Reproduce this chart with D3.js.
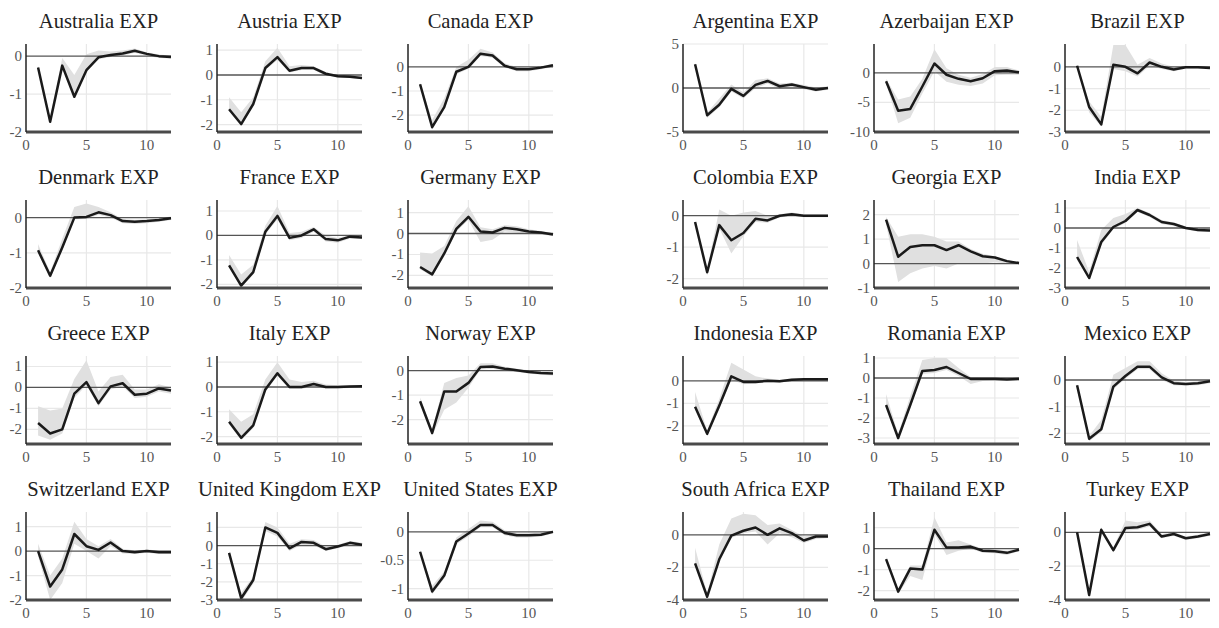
<!DOCTYPE html>
<html>
<head>
<meta charset="utf-8">
<script src="https://cdn.jsdelivr.net/npm/d3@7"></script>
<style>
  body { margin: 0; background: #fff; }
  svg { display: block; }
</style>
</head>
<body>
<svg id="chart" width="1219" height="628"></svg>
<script>
// Panels in reading order (row by row, left block then right block)
const countries = [
  "Australia", "Austria", "Canada", "Argentina", "Azerbaijan", "Brazil",
  "Denmark", "France", "Germany", "Colombia", "Georgia", "India",
  "Greece", "Italy", "Norway", "Indonesia", "Romania", "Mexico",
  "Switzerland", "United Kingdom", "United States", "South Africa", "Thailand", "Turkey"
];

const horizon = [1, 2, 3, 4, 5, 6, 7, 8, 9, 10, 11, 12];
const xTicks = [0, 5, 10];

// point response
const irf = [
  [-0.3, -1.73, -0.25, -1.07, -0.37, -0.03, 0.03, 0.07, 0.14, 0.06, 0.0, -0.02],
  [-1.38, -1.98, -1.17, 0.28, 0.72, 0.17, 0.28, 0.28, 0.05, -0.05, -0.07, -0.12],
  [-0.72, -2.5, -1.67, -0.2, 0.0, 0.55, 0.47, 0.05, -0.1, -0.1, -0.03, 0.07],
  [2.7, -3.1, -1.9, -0.1, -0.9, 0.35, 0.8, 0.2, 0.4, 0.1, -0.2, 0.0],
  [-1.4, -6.4, -6.1, -2.3, 1.6, -0.3, -1.0, -1.4, -0.9, 0.3, 0.4, 0.1],
  [0.05, -1.85, -2.65, 0.1, 0.0, -0.3, 0.2, 0.0, -0.12, -0.02, -0.02, -0.05],
  [-0.93, -1.65, -0.85, 0.0, 0.02, 0.15, 0.07, -0.1, -0.12, -0.1, -0.07, -0.02],
  [-1.22, -2.05, -1.5, 0.15, 0.8, -0.1, 0.0, 0.25, -0.15, -0.2, -0.05, -0.08],
  [-1.6, -1.95, -0.95, 0.22, 0.8, 0.1, 0.05, 0.27, 0.2, 0.1, 0.05, -0.05],
  [-0.2, -1.8, -0.3, -0.78, -0.55, -0.1, -0.15, 0.0, 0.05, 0.0, 0.0, 0.0],
  [1.8, 0.28, 0.68, 0.75, 0.75, 0.55, 0.75, 0.5, 0.3, 0.25, 0.1, 0.02],
  [-1.45, -2.5, -0.7, 0.05, 0.35, 0.9, 0.65, 0.3, 0.2, 0.0, -0.1, -0.12],
  [-1.7, -2.2, -2.0, -0.3, 0.25, -0.75, 0.05, 0.2, -0.35, -0.3, -0.05, -0.15],
  [-1.4, -2.05, -1.55, -0.1, 0.55, 0.0, 0.0, 0.12, 0.0, 0.0, 0.02, 0.03],
  [-1.25, -2.55, -0.85, -0.85, -0.5, 0.15, 0.17, 0.08, 0.02, -0.05, -0.1, -0.12],
  [-1.15, -2.35, -1.1, 0.2, -0.05, -0.05, 0.0, -0.02, 0.05, 0.07, 0.07, 0.07],
  [-1.35, -3.0, -1.35, 0.35, 0.4, 0.55, 0.25, -0.05, -0.05, -0.05, -0.07, -0.05],
  [-0.2, -2.2, -1.85, -0.25, 0.15, 0.5, 0.5, 0.1, -0.12, -0.15, -0.12, -0.05],
  [0.0, -1.45, -0.75, 0.7, 0.2, 0.05, 0.35, 0.0, -0.05, 0.0, -0.05, -0.05],
  [-0.4, -2.9, -1.9, 1.0, 0.7, -0.15, 0.2, 0.15, -0.2, -0.05, 0.15, 0.05],
  [-0.35, -1.05, -0.77, -0.17, -0.03, 0.12, 0.12, -0.02, -0.06, -0.06, -0.05, 0.0],
  [-1.75, -3.8, -1.5, -0.05, 0.25, 0.45, 0.0, 0.4, 0.1, -0.35, -0.1, -0.1],
  [-0.5, -2.05, -0.95, -1.0, 0.9, 0.05, 0.05, 0.1, -0.1, -0.12, -0.2, -0.05],
  [0.0, -3.7, 0.15, -1.05, 0.25, 0.3, 0.5, -0.25, -0.1, -0.35, -0.25, -0.1]
];

// lower edge of the shaded band
const bandLo = [
  [-0.35, -1.78, -0.3, -1.12, -0.42, -0.08, -0.02, 0.02, 0.09, 0.01, -0.05, -0.06],
  [-1.45, -2.05, -1.25, 0.2, 0.6, 0.1, 0.2, 0.2, -0.02, -0.1, -0.12, -0.17],
  [-0.8, -2.6, -1.75, -0.3, -0.08, 0.45, 0.38, -0.02, -0.18, -0.18, -0.1, 0.0],
  [2.5, -3.4, -2.2, -0.4, -1.2, 0.0, 0.5, -0.1, 0.1, -0.15, -0.4, -0.2],
  [-1.8, -8.5, -7.6, -3.5, 0.3, -1.5, -2.0, -2.2, -1.8, -0.4, -0.3, -0.3],
  [0.0, -2.1, -2.75, -0.1, -0.2, -0.45, 0.05, -0.1, -0.2, -0.08, -0.08, -0.1],
  [-1.0, -1.72, -0.92, -0.05, -0.04, 0.08, 0.0, -0.16, -0.18, -0.16, -0.12, -0.07],
  [-1.3, -2.1, -1.6, 0.05, 0.65, -0.2, -0.1, 0.15, -0.25, -0.3, -0.12, -0.15],
  [-1.7, -2.05, -1.1, 0.1, 0.65, -0.4, -0.3, 0.1, 0.05, 0.0, -0.05, -0.12],
  [-0.25, -1.9, -0.4, -1.2, -0.65, -0.2, -0.22, -0.06, 0.0, -0.05, -0.05, -0.05],
  [1.6, -0.75, -0.4, -0.2, -0.1, -0.2, 0.0, 0.0, 0.0, 0.05, 0.0, -0.03],
  [-1.6, -2.6, -0.85, -0.05, 0.25, 0.8, 0.55, 0.2, 0.1, -0.08, -0.17, -0.2],
  [-2.3, -2.5, -2.2, -0.5, 0.1, -0.9, -0.1, 0.05, -0.5, -0.45, -0.2, -0.3],
  [-1.5, -2.15, -1.65, -0.2, 0.45, -0.08, -0.08, 0.04, -0.07, -0.06, -0.04, -0.03],
  [-1.35, -2.65, -1.6, -1.3, -0.7, 0.05, 0.08, 0.0, -0.05, -0.12, -0.17, -0.2],
  [-1.25, -2.45, -1.25, 0.05, -0.15, -0.12, -0.07, -0.08, 0.0, 0.02, 0.02, 0.02],
  [-1.45, -3.1, -1.5, 0.2, 0.25, 0.4, 0.1, -0.3, -0.15, -0.12, -0.14, -0.12],
  [-0.25, -2.3, -1.95, -0.35, 0.05, 0.4, 0.4, 0.0, -0.2, -0.22, -0.2, -0.12],
  [-0.2, -2.0, -1.3, 0.3, 0.0, -0.3, 0.2, -0.1, -0.12, -0.07, -0.12, -0.12],
  [-0.5, -3.1, -2.1, 0.8, 0.5, -0.3, 0.05, 0.0, -0.3, -0.15, 0.05, -0.05],
  [-0.38, -1.1, -0.82, -0.22, -0.08, 0.08, 0.08, -0.06, -0.1, -0.1, -0.08, -0.03],
  [-1.9, -3.9, -1.7, -0.2, 0.1, 0.2, -0.6, 0.1, -0.15, -0.5, -0.25, -0.2],
  [-0.6, -2.15, -1.3, -1.5, 0.7, -0.3, -0.1, 0.0, -0.2, -0.22, -0.3, -0.12],
  [-0.05, -3.9, 0.0, -1.2, 0.1, 0.15, 0.35, -0.35, -0.2, -0.45, -0.35, -0.2]
];

// upper edge of the shaded band
const bandHi = [
  [-0.25, -1.6, -0.05, -0.5, 0.05, 0.15, 0.12, 0.15, 0.2, 0.1, 0.04, 0.02],
  [-0.9, -1.5, -0.9, 0.55, 1.1, 0.35, 0.4, 0.35, 0.12, 0.0, -0.02, -0.07],
  [-0.65, -2.2, -1.3, 0.0, 0.3, 0.75, 0.6, 0.15, 0.0, -0.03, 0.03, 0.12],
  [2.9, -2.8, -1.2, 0.4, -0.5, 0.9, 1.1, 0.5, 0.6, 0.35, 0.05, 0.2],
  [-1.0, -4.5, -4.0, -1.0, 4.0, 0.8, -0.3, -0.8, -0.2, 1.0, 1.0, 0.4],
  [0.1, -1.6, -2.3, 1.0, 1.0, 0.1, 0.4, 0.15, 0.0, 0.05, 0.03, 0.0],
  [-0.75, -1.55, -0.6, 0.3, 0.4, 0.3, 0.15, -0.04, -0.06, -0.05, -0.02, 0.03],
  [-0.8, -1.6, -1.2, 0.4, 1.2, 0.1, 0.15, 0.35, 0.0, -0.1, 0.02, 0.0],
  [-0.9, -0.95, -0.6, 0.6, 1.3, 0.3, 0.2, 0.4, 0.35, 0.2, 0.12, 0.02],
  [-0.15, -1.7, 0.2, 0.0, 0.1, 0.15, 0.0, 0.05, 0.1, 0.05, 0.05, 0.05],
  [1.9, 1.1, 1.2, 1.2, 1.1, 0.9, 0.9, 0.6, 0.4, 0.3, 0.15, 0.06],
  [-0.6, -2.2, -0.1, 0.5, 0.7, 1.0, 0.75, 0.4, 0.28, 0.07, -0.03, -0.05],
  [-0.9, -1.1, -1.0, 0.4, 1.3, -0.2, 0.5, 0.6, -0.1, -0.1, 0.15, 0.0],
  [-0.9, -1.4, -1.1, 0.3, 1.0, 0.3, 0.2, 0.25, 0.1, 0.07, 0.08, 0.08],
  [-1.1, -2.4, -0.5, -0.3, -0.2, 0.3, 0.3, 0.16, 0.08, 0.02, -0.04, -0.05],
  [-0.5, -2.2, -0.8, 0.8, 0.5, 0.2, 0.1, 0.05, 0.1, 0.12, 0.12, 0.12],
  [-0.8, -2.8, -0.9, 0.9, 1.0, 1.0, 0.5, 0.05, 0.02, 0.02, 0.0, 0.02],
  [-0.15, -2.1, -1.5, 0.2, 0.45, 0.7, 0.7, 0.25, -0.03, -0.08, -0.05, 0.02],
  [0.3, -1.0, -0.3, 1.2, 0.5, 0.2, 0.5, 0.1, 0.02, 0.07, 0.02, 0.02],
  [-0.3, -2.6, -1.7, 1.3, 1.0, 0.1, 0.35, 0.3, -0.05, 0.05, 0.25, 0.15],
  [-0.32, -0.95, -0.7, -0.1, 0.05, 0.2, 0.18, 0.03, -0.02, -0.02, -0.02, 0.03],
  [-0.8, -3.6, -0.6, 1.0, 1.3, 1.2, 0.6, 0.7, 0.3, -0.1, 0.05, 0.0],
  [-0.4, -1.9, -0.8, -0.8, 1.5, 0.3, 0.4, 0.2, 0.0, -0.03, -0.1, 0.02],
  [0.05, -3.5, 0.3, -0.9, 0.7, 0.6, 0.7, -0.1, 0.0, -0.25, -0.15, 0.0]
];

// y-axis limits and tick values per panel
const yLimits = [
  [-2, 0.32], [-2.3, 1.25], [-2.7, 0.95], [-5, 5], [-10, 4.9], [-3, 1.05],
  [-2, 0.5], [-2.15, 1.45], [-2.6, 1.6], [-2.3, 0.5], [-1, 2.6], [-3, 1.4],
  [-2.7, 1.5], [-2.3, 1.25], [-3, 0.6], [-2.8, 1.1], [-3.3, 1.1], [-2.4, 0.9],
  [-2, 1.6], [-3, 1.85], [-1.2, 0.35], [-4, 1.4], [-2.45, 1.75], [-4, 1.2]
];
const yTicks = [
  [-2, -1, 0], [-2, -1, 0, 1], [-2, -1, 0], [-5, 0, 5], [-10, -5, 0], [-3, -2, -1, 0],
  [-2, -1, 0], [-2, -1, 0, 1], [-2, -1, 0, 1], [-2, -1, 0], [-1, 0, 1, 2], [-3, -2, -1, 0, 1],
  [-2, -1, 0, 1], [-2, -1, 0, 1], [-2, -1, 0], [-2, -1, 0], [-3, -2, -1, 0, 1], [-2, -1, 0],
  [-2, -1, 0, 1], [-3, -2, -1, 0, 1], [-1, -0.5, 0], [-4, -2, 0], [-2, -1, 0, 1], [-4, -2, 0]
];

// layout
const colX = [26, 217, 408, 683, 874, 1065];
const rowTop = [44, 200, 356, 512];
const PW = 145;   // plot width
const PH = 88;    // plot height
const SERIF = '"Liberation Serif", "DejaVu Serif", serif';

const svg = d3.select("#chart");

countries.forEach((name, i) => {
  const col = i % 6;
  const row = Math.floor(i / 6);
  const g = svg.append("g")
    .attr("transform", `translate(${colX[col]},${rowTop[row]})`);

  const x = d3.scaleLinear().domain([0, 12]).range([0, PW]);
  const y = d3.scaleLinear().domain(yLimits[i]).range([PH, 0]);

  // gridlines
  g.selectAll("line.hgrid")
    .data(yTicks[i].filter(t => t !== 0 && t !== yLimits[i][0]))
    .enter().append("line")
    .attr("class", "hgrid")
    .attr("x1", 0).attr("x2", PW)
    .attr("y1", d => y(d)).attr("y2", d => y(d))
    .attr("stroke", "#e8e8e8").attr("stroke-width", 1.2);

  g.selectAll("line.vgrid")
    .data(xTicks.filter(t => t > 0))
    .enter().append("line")
    .attr("class", "vgrid")
    .attr("x1", d => x(d)).attr("x2", d => x(d))
    .attr("y1", 0).attr("y2", PH)
    .attr("stroke", "#e8e8e8").attr("stroke-width", 1.2);

  // shaded band
  const rows = horizon.map((h, k) => ({ h, v: irf[i][k], lo: bandLo[i][k], hi: bandHi[i][k] }));
  g.append("path")
    .datum(rows)
    .attr("fill", "#e0e0e0")
    .attr("d", d3.area().x(d => x(d.h)).y0(d => y(d.lo)).y1(d => y(d.hi)));

  // zero line
  g.append("line")
    .attr("x1", 0).attr("x2", PW)
    .attr("y1", y(0)).attr("y2", y(0))
    .attr("stroke", "#555").attr("stroke-width", 1.3);

  // response line
  g.append("path")
    .datum(rows)
    .attr("fill", "none")
    .attr("stroke", "#1a1a1a")
    .attr("stroke-width", 2.5)
    .attr("stroke-linejoin", "round")
    .attr("d", d3.line().x(d => x(d.h)).y(d => y(d.v)));

  // axis lines
  g.append("line")
    .attr("x1", 0).attr("x2", PW)
    .attr("y1", PH).attr("y2", PH)
    .attr("stroke", "#4a4a4a").attr("stroke-width", 3);
  g.append("line")
    .attr("x1", 0).attr("x2", 0)
    .attr("y1", 0).attr("y2", PH)
    .attr("stroke", "#222").attr("stroke-width", 1.5);

  // tick labels
  g.selectAll("text.ylab")
    .data(yTicks[i])
    .enter().append("text")
    .attr("class", "ylab")
    .attr("x", -4)
    .attr("y", d => y(d) + 5)
    .attr("text-anchor", "end")
    .style("font-family", SERIF)
    .style("font-size", "15px")
    .style("fill", "#555")
    .text(d => String(d));

  g.selectAll("text.xlab")
    .data(xTicks)
    .enter().append("text")
    .attr("class", "xlab")
    .attr("x", d => x(d))
    .attr("y", PH + 18)
    .attr("text-anchor", "middle")
    .style("font-family", SERIF)
    .style("font-size", "15px")
    .style("fill", "#555")
    .text(d => d);

  // title
  g.append("text")
    .attr("transform", `translate(${PW / 2},-16) scale(0.98,1)`)
    .attr("text-anchor", "middle")
    .style("font-family", SERIF)
    .style("font-size", "21px")
    .style("fill", "#222")
    .text(name + " EXP");
});
</script>
</body>
</html>
